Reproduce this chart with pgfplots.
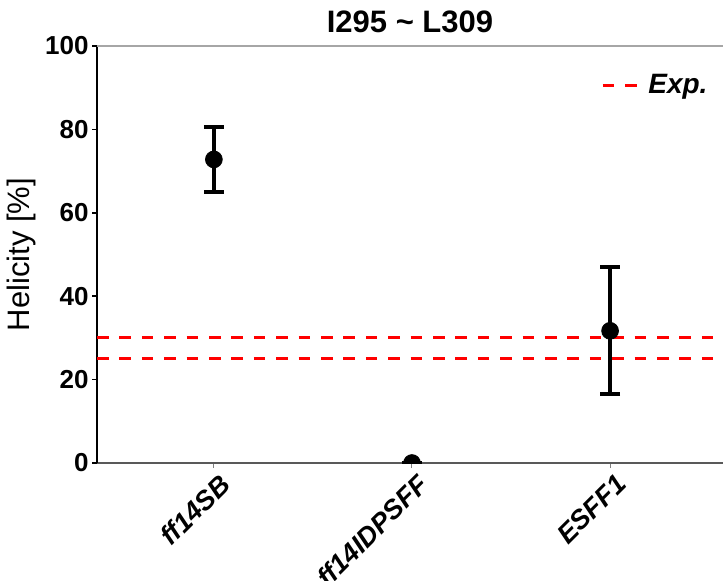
\documentclass[border=0pt]{standalone}
\usepackage{fontspec}
\setmainfont{Liberation Sans}
\usepackage{pgfplots}
\pgfplotsset{compat=1.18}
\begin{document}
\begin{tikzpicture}
\begin{axis}[
  name=ax, at={(0,0)}, anchor=south west,
  scale only axis, width=313pt, height=208.5pt,
  xmin=-0.59, xmax=2.57, ymin=0, ymax=100,
  axis y line*=left, axis x line*=bottom,
  y axis line style={black, line width=0.75pt, -},
  x axis line style={black!65, line width=0.75pt, -},
  clip marker paths=true,
  xtick={0,1,2}, xticklabels={ff14SB,ff14IDPSFF,ESFF1},
  ytick={0,20,40,60,80,100},
  tick align=outside,
  major tick length=2.5pt,
  xtick style={black!50, line width=0.5pt},
  ytick style={black, line width=0.75pt},
  /pgf/number format/assume math mode=true,
  yticklabel style={font=\bfseries\fontsize{13}{13}\selectfont, inner sep=1.5pt},
  xticklabel style={font=\bfseries\itshape\fontsize{13.5}{13.5}\selectfont, rotate=45, anchor=north east, inner sep=1pt, yshift=-2pt, xshift=1pt},
  title={I295 \textasciitilde\ L309},
  title style={font=\bfseries\fontsize{15.5}{15.5}\selectfont, at={(axis description cs:0.5,1)}, anchor=base, yshift=1pt, inner sep=0pt},
  ylabel={Helicity [\%]},
  ylabel style={font=\fontsize{15.5}{15.5}\selectfont, at={(axis description cs:-0.12,0.5)}, anchor=center},
  legend style={at={(axis description cs:0.805,0.905)}, anchor=west, draw=none, fill=none, inner xsep=0pt,
    font=\bfseries\itshape\fontsize{14}{14}\selectfont},
  legend cell align=left,
  legend image code/.code={\draw[#1] (0pt,0pt) -- (17.5pt,0pt); \path (0pt,0pt) -- (20pt,0pt);},
]
\addplot[red, line width=1.5pt, dash pattern=on 5.8pt off 5.4pt, forget plot] coordinates {(-0.59,25) (2.57,25)};
\addplot[red, line width=1.5pt, dash pattern=on 5.8pt off 5.4pt] coordinates {(-0.59,30) (2.57,30)};
\addlegendentry{Exp.}
\addplot[only marks, mark=*, mark size=4.2pt, black,
  error bars/.cd, y dir=both, y explicit,
  error bar style={line width=2pt, black},
  error mark options={rotate=90, mark size=5pt, line width=2pt, black}]
  coordinates {
  (0,72.8) +- (0,7.8)
  (1,0) +- (0,0)
  (2,31.7) +- (0,15.2)
  };
\end{axis}
\draw[black!35, line width=0.75pt] (ax.north west) -- (ax.north east);
\pgfresetboundingbox
\useasboundingbox (-48.5pt,-58.5pt) rectangle (313pt,231.5pt);
\end{tikzpicture}
\end{document}
